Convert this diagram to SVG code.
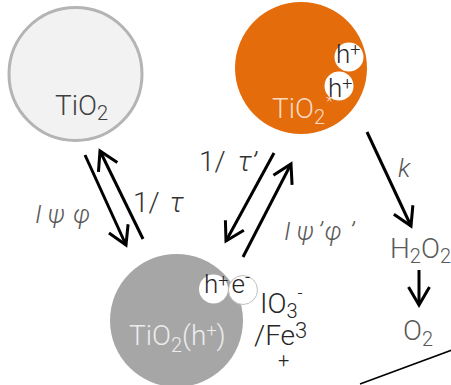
<svg xmlns="http://www.w3.org/2000/svg" width="451" height="385" viewBox="0 0 451 385">
<defs>
<style>
text{font-family:Roboto,"Liberation Sans",sans-serif;font-weight:300;}
.big{font-size:28px;}
.lbl{font-size:26px;fill:#595959;font-style:italic;}
.rate{font-size:28px;fill:#333;}
.arr{fill:none;stroke:#000;stroke-width:3;marker-end:url(#ah);}
</style>
<marker id="ah" markerUnits="userSpaceOnUse" markerWidth="40" markerHeight="40" viewBox="-20 -20 40 40" refX="0" refY="0" orient="auto" overflow="visible">
<path d="M-18,-10.5 L0,0 L-18,10.5" fill="none" stroke="#000" stroke-width="3"/>
</marker>
</defs>
<rect width="451" height="385" fill="#fff"/>
<g id="tio2">
<circle cx="75.5" cy="74" r="66.5" fill="#f2f2f2" stroke="#b4b4b4" stroke-width="3"/>
<text x="55" y="115" class="big" fill="#404040">TiO<tspan font-size="20" dy="5">2</tspan></text>
</g>
<g id="tio2star">
<circle cx="301" cy="68" r="66" fill="#e46c0a"/>
<circle cx="349" cy="57" r="14.5" fill="#fff"/>
<circle cx="339" cy="86" r="14.5" fill="#fff"/>
<text x="336" y="63" font-size="26" fill="#262626">h<tspan font-size="18" dy="-7">+</tspan></text>
<text x="328" y="97" font-size="26" fill="#262626">h<tspan font-size="18" dy="-7">+</tspan></text>
<text x="272" y="118" class="big" fill="#fad9c1">TiO<tspan font-size="20" dy="6">2</tspan><tspan font-size="16" dy="-17" dx="1">*</tspan></text>
</g>
<g id="tio2h">
<circle cx="176.5" cy="320.5" r="66.5" fill="#a6a6a6"/>
<text x="129" y="345" class="big" fill="#ececec">TiO<tspan font-size="20" dy="7">2</tspan><tspan dy="-7">(h</tspan><tspan font-size="18" dy="-8">+</tspan><tspan dy="8">)</tspan></text>
<circle cx="213.5" cy="289" r="14.5" fill="#fff"/>
<circle cx="243" cy="290" r="14.5" fill="#fff" stroke="#bfbfbf" stroke-width="1"/>
<text x="204" y="293" font-size="26" fill="#262626">h<tspan font-size="18" dy="-6">+</tspan><tspan dy="6" dx="3">e</tspan><tspan font-size="18" dy="-10">-</tspan></text>
</g>
<g id="acceptor">
<text x="260" y="313" class="big" fill="#262626">IO<tspan font-size="20" dy="5">3</tspan><tspan font-size="18" dy="-19">-</tspan></text>
<text x="254" y="345" class="big" fill="#262626">/Fe<tspan font-size="22" dy="-7">3</tspan></text>
<text x="278" y="367" font-size="20" fill="#262626">+</text>
</g>
<g id="h2o2">
<text x="390" y="258" class="big" fill="#595959">H<tspan font-size="20" dy="5">2</tspan><tspan dy="-5">O</tspan><tspan font-size="20" dy="5">2</tspan></text>
</g>
<g id="o2">
<text x="403" y="340" class="big" fill="#595959">O<tspan font-size="20" dy="6">2</tspan></text>
</g>
<g id="connectors">
<line class="arr" x1="85" y1="155" x2="126" y2="245"/>
<line class="arr" x1="143" y1="239" x2="100" y2="151"/>
<line class="arr" x1="274" y1="153" x2="226" y2="241"/>
<line class="arr" x1="243" y1="257" x2="291" y2="164"/>
<line class="arr" x1="367" y1="132" x2="411" y2="226"/>
<line class="arr" x1="419" y1="270" x2="419" y2="305"/>
<line x1="360" y1="384" x2="452" y2="350" stroke="#000" stroke-width="1.5"/>
<text x="35" y="223" class="lbl">I<tspan dx="6">ψ</tspan><tspan dx="8">φ</tspan></text>
<text x="133" y="212" class="rate">1/<tspan dx="10" font-style="italic">τ</tspan></text>
<text x="199" y="171" class="rate">1/<tspan dx="12" font-style="italic">τ</tspan><tspan font-style="italic">’</tspan></text>
<text x="398" y="177" class="lbl">k</text>
<text x="284" y="240" class="lbl">I<tspan dx="6">ψ</tspan><tspan dx="4">’</tspan><tspan dx="2">φ</tspan><tspan dx="8">’</tspan></text>
</g>
</svg>
